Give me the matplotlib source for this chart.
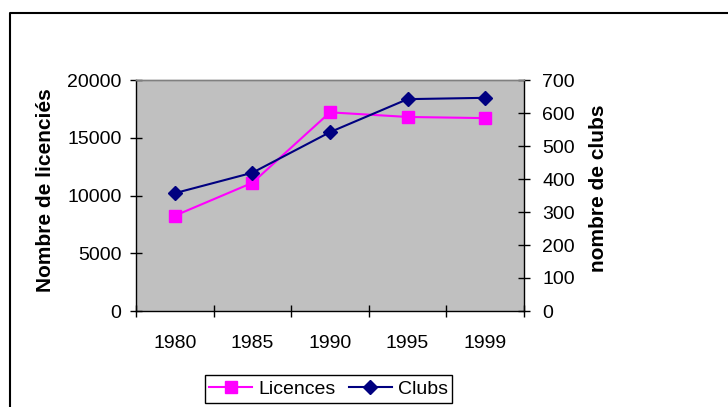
import matplotlib
matplotlib.use('Agg')
import matplotlib.pyplot as plt
from matplotlib.lines import Line2D

# donnees
annees = ['1980', '1985', '1990', '1995', '1999']
licences = [8250, 11100, 17200, 16800, 16700]
clubs = [357, 419, 542, 642, 646]

plt.rcParams['font.family'] = ['Liberation Sans', 'DejaVu Sans']
plt.rcParams['font.size'] = 14

W, H = 728, 407
fig = plt.figure(figsize=(W / 100, H / 100), dpi=100)

# zone de trace (pixels -> fractions)
ax = fig.add_axes([136 / W, 1 - 311 / H, 388 / W, 231 / H])
ax.set_facecolor('#c0c0c0')
x = list(range(len(annees)))

l1, = ax.plot(x, licences, color='#ff00ff', marker='s', markersize=8, lw=1.5,
              label='Licences', zorder=3)
ax2 = ax.twinx()
l2, = ax2.plot(x, clubs, color='#000080', marker='D', markersize=7, lw=1.5,
               label='Clubs', zorder=3)

ax.set_xlim(-0.5, 4.5)
ax.set_ylim(0, 20000)
ax.set_yticks(range(0, 20001, 5000))
ax2.set_ylim(0, 700)
ax2.set_yticks(range(0, 701, 100))

ax.set_xticks(x)
ax.set_xticklabels(annees)
ax.set_xticks([i - 0.5 for i in range(len(annees) + 1)], minor=True)
ax.tick_params(axis='x', which='major', length=0, pad=17, labelsize=14)
ax.tick_params(axis='x', which='minor', direction='inout', length=9, width=1)
ax.tick_params(axis='y', direction='inout', length=9, width=1, pad=6, labelsize=14)
ax2.tick_params(axis='y', direction='inout', length=9, width=1, pad=8.5, labelsize=14)

for a in (ax, ax2):
    a.spines['top'].set_color('#808080')
    for s in a.spines.values():
        s.set_linewidth(1)
ax.spines['right'].set_visible(False)
ax2.spines['left'].set_visible(False)
ax2.spines['bottom'].set_visible(False)

fig.text(46 / W, 1 - 190 / H, 'Nombre de licenciés', rotation=90,
         fontweight='bold', fontsize=15, ha='center', va='center')
fig.text(598 / W, 1 - 188 / H, 'nombre de clubs', rotation=90,
         fontweight='bold', fontsize=15, ha='center', va='center')

leg = fig.legend(handles=[l1, l2], loc='center', ncol=2,
                 bbox_to_anchor=(328.5 / W, 1 - 389 / H), frameon=True,
                 fancybox=False, edgecolor='black', framealpha=1,
                 handlelength=2.2, borderpad=0.25, columnspacing=0.7,
                 handletextpad=0.3, fontsize=14)
leg.get_frame().set_linewidth(1)

# cadre du graphique (coupe a droite et en bas)
fig.add_artist(Line2D([10 / W, 10 / W, 1.05], [-0.05, 1 - 12.5 / H, 1 - 12.5 / H],
                      transform=fig.transFigure, color='black', lw=1.5))

fig.savefig('out.png', dpi=100)
